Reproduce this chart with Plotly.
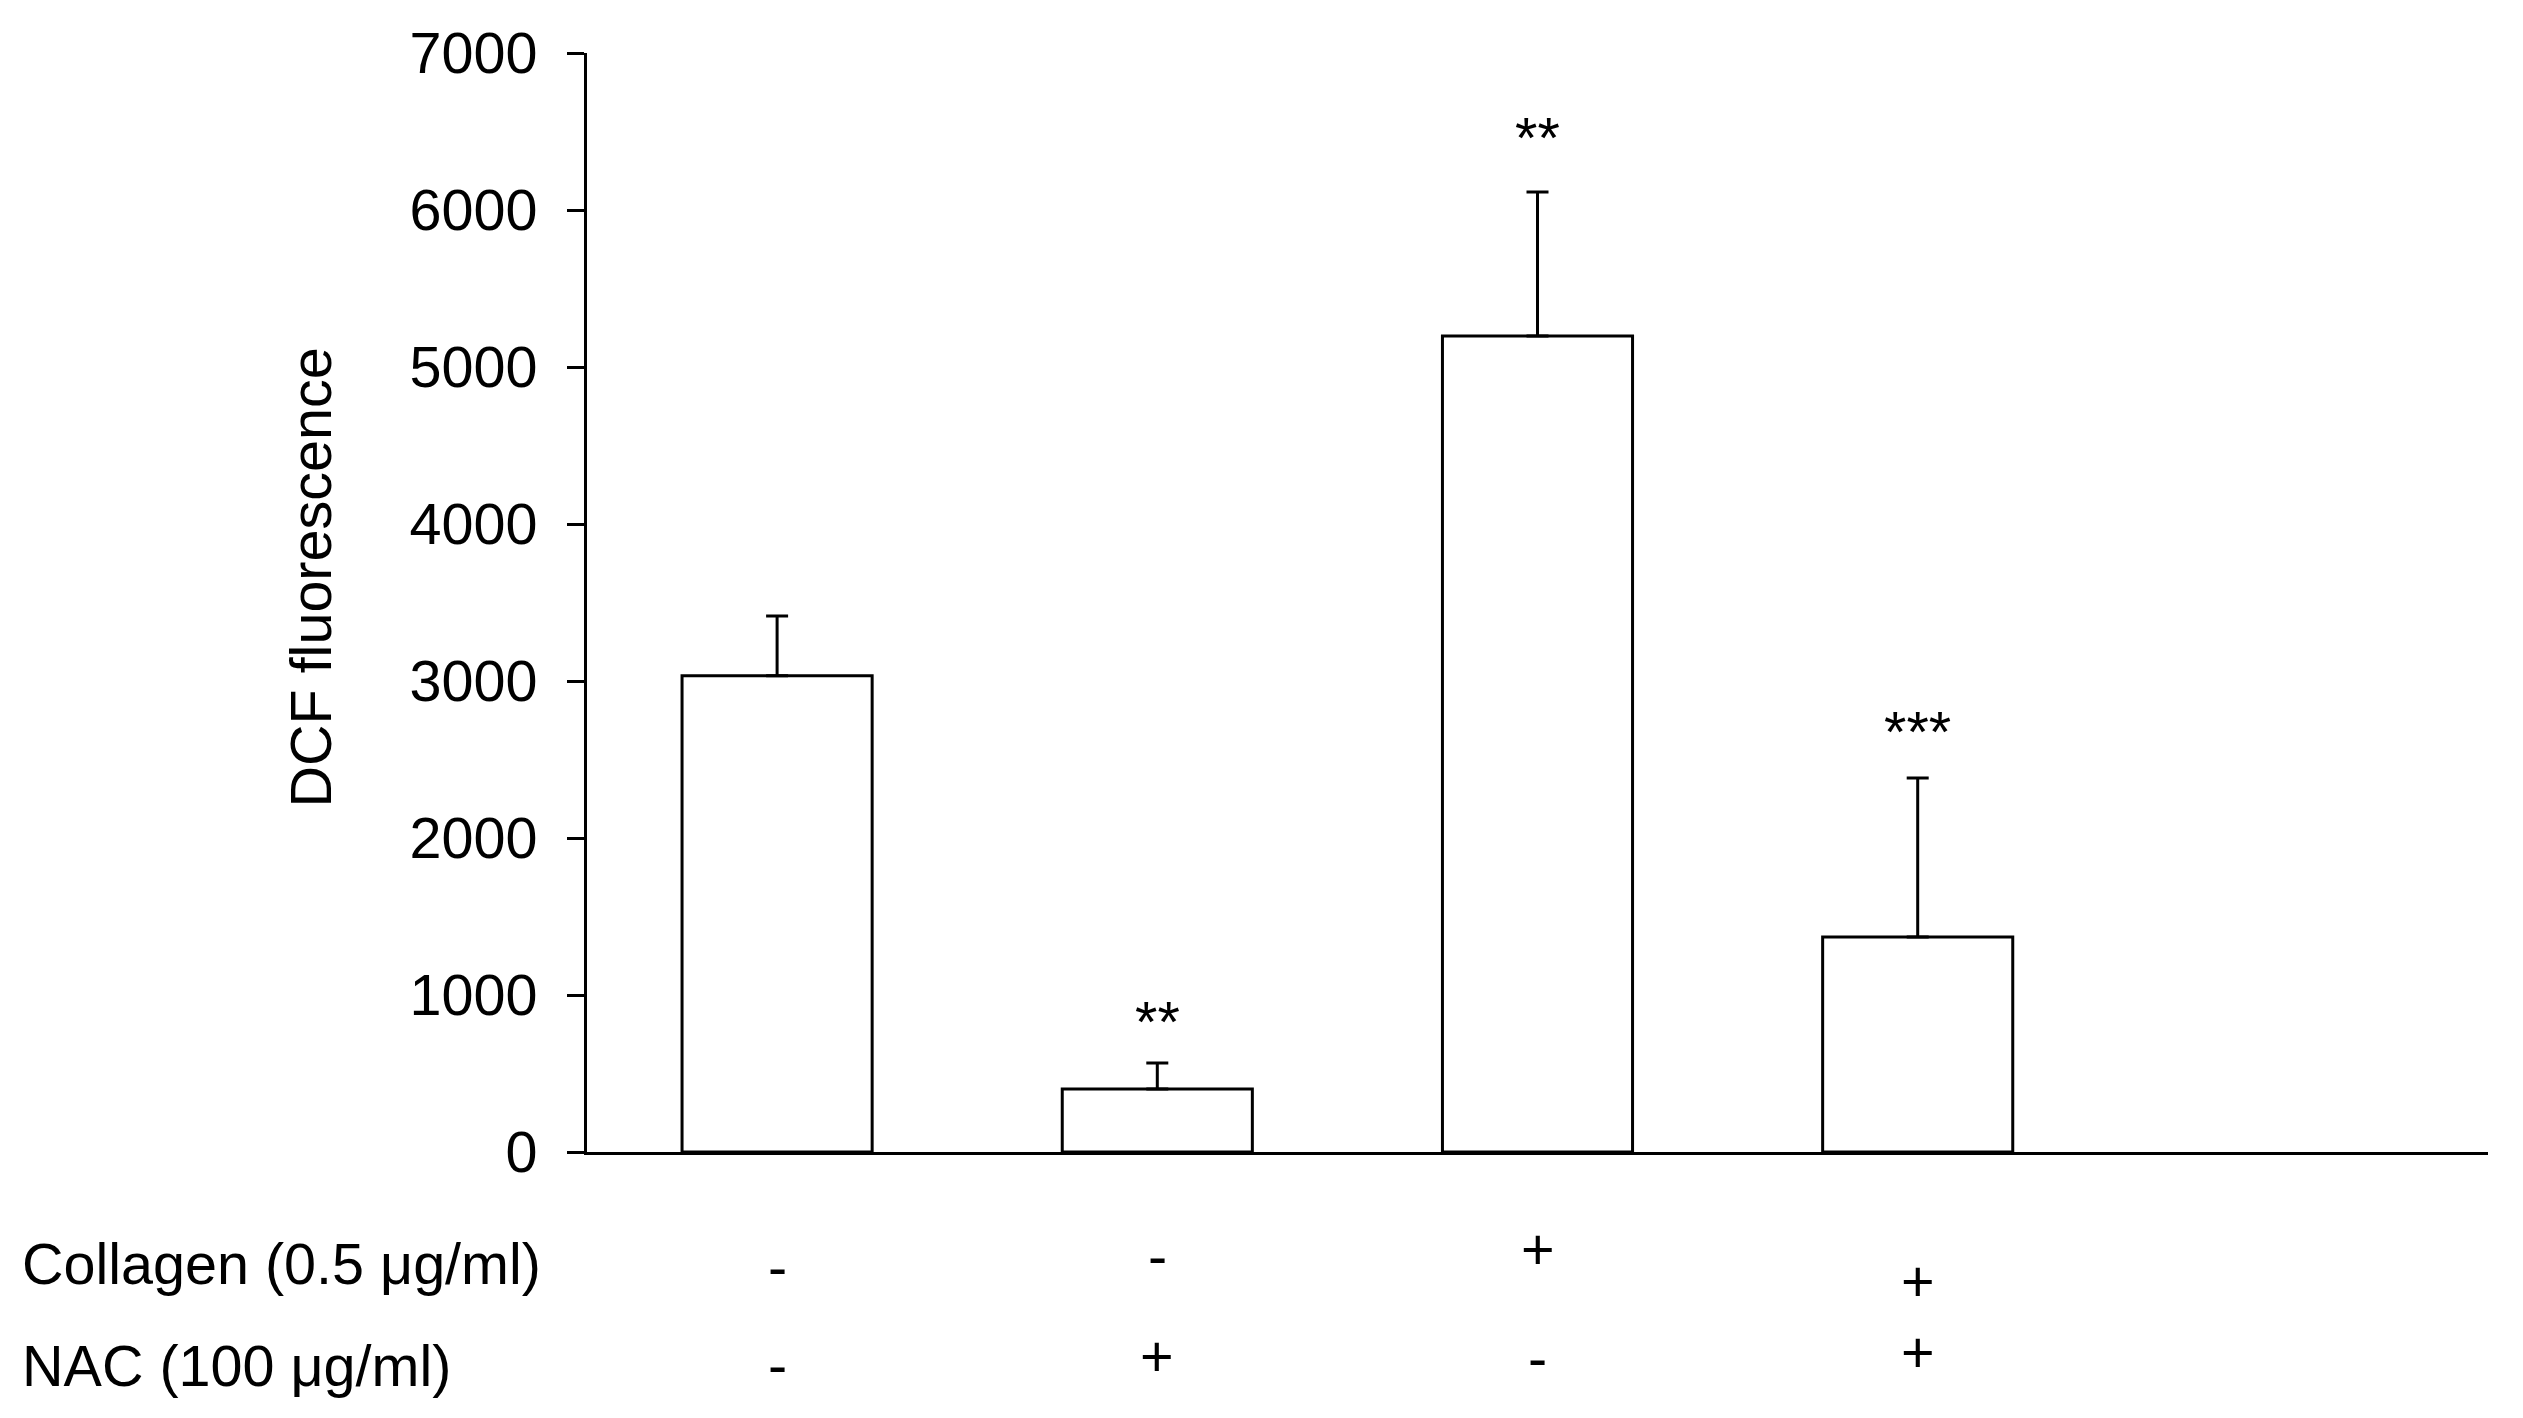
import plotly.graph_objects as go

# ---- data ----
categories = [0, 1, 2, 3]
values = [3034, 401, 5197, 1369]
errors_up = [380, 166, 918, 1013]
sig_labels = ["", "**", "**", "***"]
sig_y = [0, 879, 6510, 2726]
collagen_signs = ["-", "-", "+", "+"]
nac_signs = ["-", "+", "-", "+"]
row_labels = ["Collagen (0.5 μg/ml)", "NAC (100 μg/ml)"]
y_ticks = [0, 1000, 2000, 3000, 4000, 5000, 6000, 7000]
y_title = "DCF fluorescence"

# ---- layout helpers (pixels, page coords; page body has an 8px offset) ----
OFF = 8
W, H = 2523 - 2 * OFF, 1418 - 2 * OFF
L, T = 587 - OFF, 53 - OFF
R = W - (2488 - OFF)
B = H - (1152 - OFF)
FONT = "Liberation Sans, Arial, sans-serif"
FS = 57.5
zero_px = 1152  # page pixel row of y=0

collagen_px = [1267, 1256, 1249, 1281]
nac_px = [1365, 1356, 1358, 1352]
row_label_px = [1264, 1366]

fig = go.Figure()
fig.add_trace(go.Bar(
    x=categories, y=values, width=0.5,
    marker=dict(color="white", line=dict(color="black", width=3)),
    error_y=dict(type="data", symmetric=False, array=errors_up,
                 arrayminus=[0] * len(values), color="black",
                 thickness=3, width=11),
    showlegend=False,
))

ann = []
for c, s, y in zip(categories, sig_labels, sig_y):
    if s:
        ann.append(dict(x=c, y=y, xref="x", yref="y", text=s, showarrow=False,
                        xanchor="center", yanchor="middle", yshift=-8,
                        font=dict(size=FS, family=FONT, color="black")))
for c, s, p in zip(categories, collagen_signs, collagen_px):
    ann.append(dict(x=c, y=0, xref="x", yref="y", text=s, showarrow=False,
                    xanchor="center", yanchor="middle", yshift=zero_px - p,
                    font=dict(size=FS, family=FONT, color="black")))
for c, s, p in zip(categories, nac_signs, nac_px):
    ann.append(dict(x=c, y=0, xref="x", yref="y", text=s, showarrow=False,
                    xanchor="center", yanchor="middle", yshift=zero_px - p,
                    font=dict(size=FS, family=FONT, color="black")))
for lab, p in zip(row_labels, row_label_px):
    ann.append(dict(x=(20 - OFF - L) / (W - L - R), y=0, xref="paper", yref="y",
                    text=lab, showarrow=False, xanchor="left", yanchor="middle",
                    yshift=zero_px - p,
                    font=dict(size=FS, family=FONT, color="black")))
ann.append(dict(x=(310 - OFF - L) / (W - L - R),
                y=(zero_px - 577.5) / (H - T - B),
                xref="paper", yref="paper", text=y_title, textangle=-90,
                showarrow=False, xanchor="center", yanchor="middle",
                font=dict(size=FS, family=FONT, color="black")))

fig.update_layout(
    width=W, height=H,
    margin=dict(l=L, r=R, t=T, b=B, pad=0),
    paper_bgcolor="white", plot_bgcolor="white",
    font=dict(family=FONT, size=FS, color="black"),
    xaxis=dict(range=[-0.5, 4.5], showline=True, linecolor="black", linewidth=3,
               showticklabels=False, ticks="", showgrid=False, zeroline=False),
    yaxis=dict(range=[0, 7000], tickvals=y_ticks, showline=True,
               linecolor="black", linewidth=3, ticks="outside", ticklen=17,
               tickwidth=3, tickcolor="black", showgrid=False, zeroline=False,
               ticklabelstandoff=18,
               tickfont=dict(size=FS, family=FONT, color="black")),
    annotations=ann,
)

fig.write_html("out.html")
